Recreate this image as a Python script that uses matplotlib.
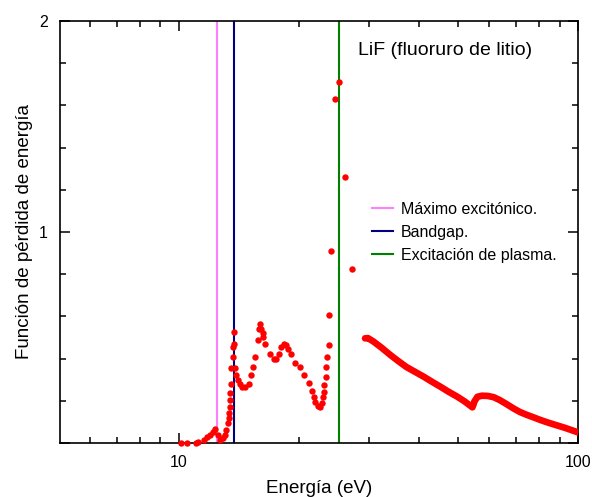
import numpy as np
import matplotlib
matplotlib.use("Agg")
import matplotlib.pyplot as plt
from matplotlib.ticker import FixedLocator, NullFormatter

plt.rcParams['font.family'] = ['Liberation Sans', 'DejaVu Sans']

# Puntos dispersos (zona de baja energía)
e_pts = [10.12, 10.5, 11.03, 11.2, 11.57, 11.8, 12.0, 12.2, 12.37, 12.56, 12.73, 12.93,
         13.05, 13.18, 13.28, 13.36, 13.39, 13.44, 13.49, 13.49, 13.54, 13.56, 13.67,
         13.7, 13.75, 13.8, 13.88, 13.96, 14.07, 14.23, 14.43, 14.7, 15.0, 15.2, 15.38,
         15.58, 15.78, 15.87, 15.97, 16.1, 16.25, 16.28, 16.5, 16.98, 17.38, 17.58, 17.8,
         18.05, 18.33, 18.61, 18.8, 19.1, 19.6, 20.1, 20.55, 21.2, 21.6, 21.8, 22.0, 22.3,
         22.65, 22.86, 23.0, 23.07, 23.16, 23.34, 23.43, 23.5, 23.8, 23.8, 24.1, 24.6,
         25.2, 26.1, 27.1]
l_pts = [0.0, 0.0, 0.0, 0.006, 0.014, 0.03, 0.038, 0.054, 0.065, 0.038, 0.014, 0.022,
         0.038, 0.062, 0.093, 0.117, 0.14, 0.172, 0.204, 0.235, 0.28, 0.354, 0.456,
         0.409, 0.528, 0.468, 0.354, 0.32, 0.30, 0.28, 0.267, 0.267, 0.28, 0.32, 0.359,
         0.409, 0.488, 0.539, 0.564, 0.539, 0.523, 0.504, 0.469, 0.42, 0.40, 0.397, 0.42,
         0.456, 0.469, 0.464, 0.444, 0.42, 0.38, 0.359, 0.32, 0.283, 0.246, 0.22, 0.196,
         0.175, 0.169, 0.19, 0.22, 0.243, 0.275, 0.314, 0.362, 0.406, 0.464, 0.605, 0.91,
         1.63, 1.71, 1.26, 0.826]

# Zona densa (alta energía)
e_dense = [29.3, 29.8, 30.8, 32.3, 33.9, 35.5, 37.2, 39.1, 41.1, 43.1, 45.2, 47.4, 49.8,
           52.0, 54.4, 54.8, 55.0, 56.0, 57.5, 59.4, 61.5, 63.6, 66.0, 68.9, 71.5, 74.5,
           77.5, 80.5, 84.0, 88.0, 93.0, 98.7, 100.0]
l_dense = [0.496, 0.497, 0.48, 0.45, 0.417, 0.388, 0.36, 0.337, 0.314, 0.29, 0.267, 0.243,
           0.22, 0.197, 0.169, 0.185, 0.196, 0.219, 0.224, 0.223, 0.217, 0.204, 0.186,
           0.164, 0.147, 0.133, 0.121, 0.109, 0.097, 0.085, 0.071, 0.054, 0.05]

# Líneas verticales
e_exciton = 12.5
e_gap = 13.75
e_plasma = 25.2

fig = plt.figure(figsize=(5.92, 4.97), dpi=100)
ax = fig.add_axes([0.1014, 0.1087, 0.875, 0.849])

ax.axvline(e_exciton, color='#ff80ff', lw=1.5, label='Máximo excitónico.')
ax.axvline(e_gap, color='#000080', lw=1.5, label='Bandgap.')
ax.axvline(e_plasma, color='#008000', lw=1.5, label='Excitación de plasma.')

ax.plot(e_pts, l_pts, 'o', color='red', ms=4.6, mec='none', clip_on=False, zorder=3)
ax.plot(e_dense, l_dense, '-', color='red', lw=4.8, solid_capstyle='round', zorder=3)

ax.set_xscale('log')
ax.set_xlim(5.05, 100)
ax.set_ylim(0, 2)

ax.xaxis.set_major_locator(FixedLocator([10, 100]))
ax.set_xticklabels(['10', '100'])
ax.xaxis.set_minor_locator(FixedLocator([6, 7, 8, 9, 20, 30, 40, 50, 60, 70, 80, 90]))
ax.xaxis.set_minor_formatter(NullFormatter())
ax.yaxis.set_major_locator(FixedLocator([0, 1, 2]))
ax.set_yticklabels(['', '1', '2'])
ax.yaxis.set_minor_locator(FixedLocator(np.arange(0.2, 2.0, 0.2)))

ax.tick_params(which='both', direction='in', top=True, right=True, labelsize=11.5, width=1.1)
ax.tick_params(which='major', length=7, pad=9)
ax.tick_params(which='minor', length=4)
for s in ax.spines.values():
    s.set_linewidth(1.2)

ax.set_xlabel('Energía (eV)', fontsize=13.5)
ax.set_ylabel('Función de pérdida de energía', fontsize=13.5)
ax.xaxis.set_label_coords(0.5, -0.088)
ax.yaxis.set_label_coords(-0.052, 0.5)

ax.text(0.575, 0.93, 'LiF (fluoruro de litio)', transform=ax.transAxes, fontsize=14,
        va='center', ha='left')

ax.legend(loc='upper left', bbox_to_anchor=(0.575, 0.605), frameon=False, fontsize=11.5,
          handlelength=1.3, handletextpad=0.5, labelspacing=0.5)

fig.savefig('out.png', dpi=100)
